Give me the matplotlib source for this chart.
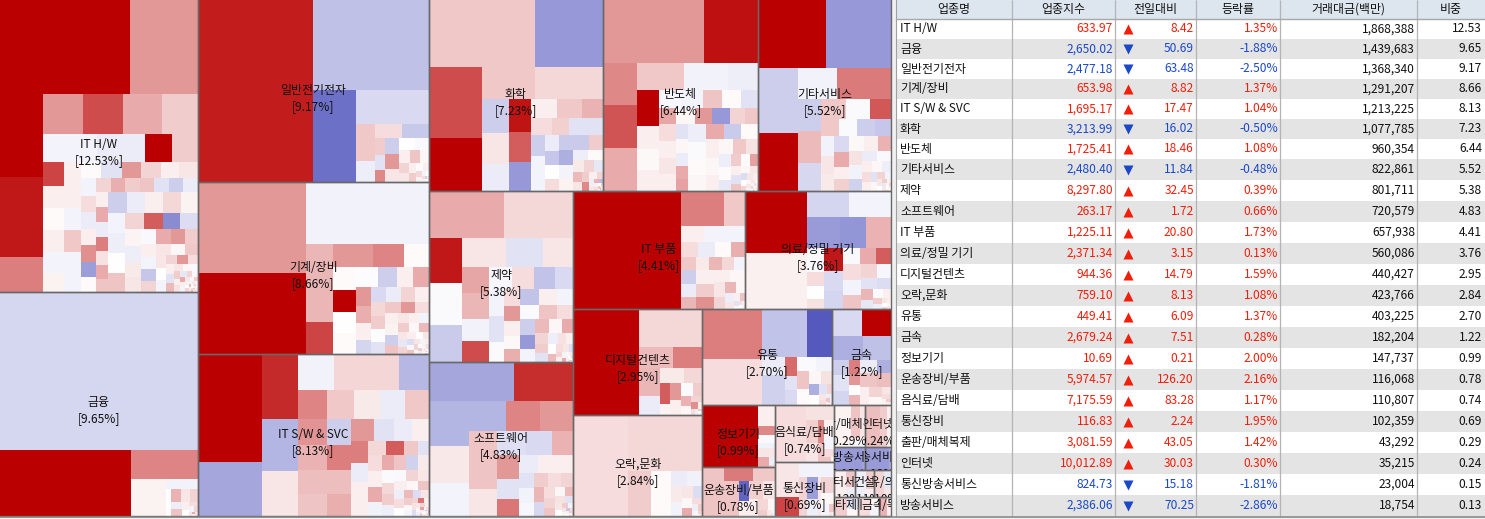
import matplotlib
matplotlib.use("Agg")
import matplotlib.pyplot as plt
from matplotlib.colors import LinearSegmentedColormap, Normalize
from matplotlib.patches import Rectangle

plt.rcParams['font.family'] = ['Noto Sans CJK KR', 'DejaVu Sans']

# ---------- table data ----------
table_names = ["IT H/W","금융","일반전기전자","기계/장비","IT S/W & SVC","화학","반도체","기타서비스","제약","소프트웨어","IT 부품","의료/정밀 기기",
               "디지털컨텐츠","오락,문화","유통","금속","정보기기","운송장비/부품","음식료/담배","통신장비","출판/매체복제","인터넷","통신방송서비스","방송서비스"]
table_index = [633.97,2650.02,2477.18,653.98,1695.17,3213.99,1725.41,2480.40,8297.80,263.17,1225.11,2371.34,
               944.36,759.10,449.41,2679.24,10.69,5974.57,7175.59,116.83,3081.59,10012.89,824.73,2386.06]
table_diff = [8.42,50.69,63.48,8.82,17.47,16.02,18.46,11.84,32.45,1.72,20.80,3.15,
              14.79,8.13,6.09,7.51,0.21,126.20,83.28,2.24,43.05,30.03,15.18,70.25]
table_rate = [1.35,-1.88,-2.50,1.37,1.04,-0.50,1.08,-0.48,0.39,0.66,1.73,0.13,
              1.59,1.08,1.37,0.28,2.00,2.16,1.17,1.95,1.42,0.30,-1.81,-2.86]
table_amount = [1868388,1439683,1368340,1291207,1213225,1077785,960354,822861,801711,720579,657938,560086,
                440427,423766,403225,182204,147737,116068,110807,102359,43292,35215,23004,18754]
table_weight = [12.53,9.65,9.17,8.66,8.13,7.23,6.44,5.52,5.38,4.83,4.41,3.76,
                2.95,2.84,2.70,1.22,0.99,0.78,0.74,0.69,0.29,0.24,0.15,0.13]
table_header = ["업종명","업종지수","전일대비","등락률","거래대금(백만)","비중"]
# sectors of the map that lie beyond the visible table rows
extra_names = ["컴퓨터서비스","건설","섬유/의류","기타제조","비금속","종이/목재"]
extra_weight = [0.12,0.11,0.10,0.10,0.09,0.05]

# ---------- treemap leaves: weight, change %, strip sizes (+col / -row) ----------
tail_w = [20,19.5,19,18.5,18,17.5,17,16.5,16,15.5,15,14.5,14,13.5,13,12.5,12,11.5,11,10.5,10,9.5,9,8.5,8,7.6,7.2,6.8,6.4,6,
          5.6,5.2,4.8,4.4,4,3.7,3.4,3.1,2.8,2.5,2.3,2.1,1.9,1.7,1.5,1.4,1.3,1.2,1.1,1,.9,.8,.7,.6,.55,.5,.45,.4,.35,.3,
          .28,.26,.24,.22,.2,.18,.16,.15,.14,.13,.12,.11,.1,.09,.08,.07,.06,.05]

hw_w = [12255,6365,3526,3397,1462,1590,1585,1560,1400,1566,1363,783,725,506,484,484,462,462,396,391,374,374,357,357,306,
        320,320,304,304,288,288,272,256,256,256,256,240,224,196,196,196,196,196,196,196,180,175,170,165,160,155,150]
hw_c = [3,1.2,3,2.7,1.5,1.2,2.1,1.0,.6,-.2,-.35,3,.6,2.2,.2,.05,.2,-.2,.15,.2,.2,-.2,.65,-.2,-.2,
        .05,-.5,1.2,.5,.2,.3,-.2,.4,-.35,.2,1.3,-1.7,.05,.5,.95,.6,.7,-.5,-.85,-.35,.2,1.0,-.35,1.5,.35,1.0,.7]
hw_n = [-2,3,-4,-4,6,6,-6,7,-7,7]
hw_t = [-.85,-.35,.2,.45,.15,-.2,-.3,0,.7,.5,1.9,-2,-.6,.12,-.3,.25,.3,-.1,1.0,1.2,.6,.2,-.2,-1.0,.5,.3,.1,.65,.3,0,
        -.2,.5,1.2,.4,.2,-.5,.8,.3,.1,-.1,.6,.2,.35,-.4,.5,.1,1.0,.2,-.2,.3,.1,.6,.2,0,.5,-.2,.3,.1,.8,.2,
        .3,-.2,.5,.1,0,.4,.9,.2,-.3,.1,.6,.2,0,.3,.7,.1,.2,-.1]

fin_w = [31360,8645,1890,1295,338,132]
fin_c = [-.72,3,1.45,.16,-.22,0]
fin_n = [-1,1,-1,1,-1,1]
fin_t = [.9,.3,.5,-.3,.7,.2,0,.4,-.2,.5,.3,1.0,.1,.2,.4,-.3,.2,.1,.6,.2]

el_w = [21060,10374,4005,2484,714,399,384,384,154,143,110]
el_c = [2.65,-1.1,-2.5,-.65,.65,-.3,.42,-.95,.6,-.5,1.4]
el_n = [1,-1,1,-1,2,-2,3]
el_t = [-.85,1.2,.3,0,-.1,.2,.7,.1,.5,.3,.2,.6,.05,.2,.45,.15,-.2,0,.4,.2,-.8,.3,.1,.2,0,.3,.1,.4,.2,.1]

mc_w = [9828,8748,7626,2184,896,897,713,575,529,506,483,483,420,380,320,320,285,255,255,210]
mc_c = [1.2,3,-.22,.85,2.2,1.2,1.45,.05,.05,3,0,.05,-.06,-.85,.2,1.0,1.2,.95,.2,-.75]
mc_n = [2,-1,2,-3,4,-4,4]
mc_t = [-.65,-.35,.5,.2,.45,.6,-.05,-.5,.65,1.2,.4,.2,.15,-.85,.7,.3,.2,-.2,.6,.1,.8,.3,-.4,.5,.2,0,.3,-.6,.1,.7,
        .3,-.2,.2,.5,.1,0,.6,-.3,.2,.4,.1,.3,-.5,.2,.1,.4,0,.3,-.2,.1,.5,.2,-.3,.1,.7,0,.3,.2,-.1,.4]

sw_w = [6912,3456,2340,1872,1620,1296,1170,1170,1080,841,783,754,725,696,754,725,696,638,624,600,576,528,506,440,396,374,374,323,289,289,252,252,196,154]
sw_c = [3,-1.55,2.5,-1.3,.3,-.22,.47,.47,-1.25,1.45,.65,.25,-.35,.65,1.25,.9,.75,.7,-.85,1.5,.75,.95,1.2,-.5,-.35,.2,1.5,-.35,.2,.2,.45,1.9,.65,-.5]
sw_n = [2,3,-4,-5,4,4,-4,4,-4]
sw_t = [.4,.2,1.0,-.25,1.0,.7,-.8,.25,-.08,.45,.6,-.3,-.1,.5,.3,.2,.1,.7,-.3,.4,0,.8,-.6,.3,.6,.1,-.2,.5,1.6,.2,
        .35,-.6,.3,.1,-.3,.5,.2,1.1,.1,.4,-.2,.6,.2,0,.3,-.9,.4,.1,.2,1.0,.2,-.2,.3,.1,.5,.2,.8,0,.2,.1]

ch_w = [7169,4556,3780,2808,1696,1088,1088,891,837,702,736,690,644,475,475,399,340,289,289,289,280,252,224,225,210,195,180]
ch_c = [.65,-1.8,2.1,3,.65,.45,.45,-.85,.3,-.35,2.75,1.9,-1.8,.2,.65,.9,.42,.55,-.5,-.5,-.85,-.2,-.2,-.35,-1.0,0,.42]
ch_n = [-2,2,-3,3,3,-3,-4,3,4]
ch_t = [-.9,-.9,.6,-1.4,-.2,.15,-.3,.05,.25,.5,-.4,.8,.3,.6,1.4,.2,.5,-.3,.3,.9,-1.2,.2,.4,0,.5,.7,.1,.3,.2,.9,.1,.4,-.2,.3,.6,0]

se_w = [6300,3402,1470,1470,1470,1288,1204,840,770,484,462,440,396,378,342,324,306,288,288,288,288,288,306,289,289,238,221,182,160,155,150,145]
se_c = [1.2,2.8,1.4,2,1,.65,-.22,-.3,3,.2,.08,.2,-.15,-.2,.7,.05,-.5,1.05,.42,.2,.3,.2,.1,1.2,-1.8,.5,.65,-.5,.1,-.35,1.0,1.1]
se_n = [-2,3,-3,4,-5,5,-5,5]
se_t = [-.3,-.08,.05,.1,1.0,-.9,.05,.2,.1,.2,.1,.65,.35,-.3,.05,-.4,.6,.05,1.1,.2,-.5,.7,.1,.3,-.6,.3,.2,0,.5,.1,
        .3,-.2,.3,0,.1,.4,.2,.5,0,.1,.6,-.1,.2,.3,0,.4,.1,.2,.7,.1]

sv_w = [4624,4420,2624,2337,1178,837,837,725,700,621,525,483,441,306,306,289,272,266,238,224,238,210,190,170]
sv_c = [3,-1.8,-.85,3,-.22,1.55,1.55,-.85,.8,-.7,.65,-.08,1.95,.65,-.08,-.85,-1.0,-.22,.3,.25,-.65,1.0,.2,.55]
sv_n = [-2,2,-3,3,-3,-4,3,4]
sv_t = [.08,.2,.9,.35,-.22,-.8,-.35,-.1,.2,.1,-.3,.4,.2,-.5,.1,.5,-.2,.3,0,.6,.2,-.4,.3,.1,.5,0,.3,.2,-.2,.1,.4,0,.2,-.3,.1,.3]

ph_w = [3525,3243,1485,1386,1221,1276,1073,870,702,702,594,567,529,506,483,414,390,390,300,272,255,255,221,221,288,288,256]
ph_c = [1,.45,2.7,-.08,-.9,.3,-.5,.3,1.05,.85,-.22,2.1,-.15,.4,-1.05,-.65,-.2,-.5,-.08,.4,1.2,.2,.08,.95,-1.05,.2,-.2]
ph_n = [-2,3,-3,4,-4,3,5,-3]
ph_t = [-.08,.7,.42,-.85,-1.8,-.2,.8,.1,1.0,.5,.6,-.5,-.3,.35,.2,0,.8,.4,.3,-.6,.5,.2,-.2,1.0,.1,.3,-.3,.2,0,.5,
        .2,-.5,.1,.4,.7,0,.2,-.2,.3,.1]

so_w = [3315,2301,1800,1480,1320,1110,1020,990,812,812,756,696,624,504,528,440,374,342,324,324]
so_c = [-1.55,2.45,-1.3,.28,-.2,-1.3,1.45,1.2,.7,.7,.3,-.55,-.65,.9,1.2,-.5,1.6,-.35,.2,.2]
so_n = [-2,3,-3,3,-3,3,-3]
so_t = [-.5,-.22,-.15,.6,.4,.5,.85,-.7,.4,.5,.7,.1,.8,.35,-.5,.3,0,.6,-.2,.3,.1,-1.0,.4,.2,0,.6,.2,-.3,.5,.1,.8,0,.2,.3,-.2]

cp_w = [12744,1470,735,391,340,340,255,255,225,210,195,195,195,180,170,160,150,140]
cp_c = [3,1.5,.65,.2,-.2,-.2,.42,-.35,.05,.95,.65,-.85,-.35,.85,.25,.85,.45,-.2]
cp_n = [1,-2,-3,-4,4,-4]
cp_t = [.2,.6,1.3,.2,.1,.3,.5,.85,.1,-.3,.3,.2,.7,-.5,.1,.4,.2,0,.3,-.2,.5,.1,.2,.4,0]

md_w = [3844,3472,1118,1118,1020,810,750,408,238,238,170,437,399,342,265,250,240]
md_c = [3,.17,-.75,-.2,-1.75,-1.85,.9,-.1,.42,0,.35,2.7,-.65,-.75,-.1,1.0,1.9]
md_n = [2,-2,-3,4,3,-3]
md_t = [.42,-.2,.7,.5,-.15,-.5,-.6,.85,-.4,-.08,.2,.6,-.3,.3,.2,0,.5,.1,-.2,.3,.2,.1,.4,0,.3]

dc_w = [6930,2356,726,638,567,378,360,255,220,110]
dc_c = [3,.45,.8,1.5,.85,-.35,.25,.45,1.9,.12]
dc_n = [1,-1,-2,2,-2,2]
dc_t = [1.2,.2,-.08,.6,.9,.1,.5,1.3,.2,.4,-.3,.6,.1,0,-.2,.3,.1,.4]

en_w = [5555,4161,1056,880,240,225]
en_c = [.42,.45,.6,.05,-.35,-.25]
en_n = [1,-1,1,1,-2]
en_t = [.25,-.22,.3,-.6,.1,1.0,.4,-.3,.6,-.2,.1,.5,.2,.1,.3,0,.4,-.2]

di_w = [3000,2700,2156,1225,408,336,336,234,182,182]
di_c = [1.5,.42,-1.05,-2.9,-.35,-.8,-.8,1.75,-.5,-.65]
di_n = [2,-2,3,3]
di_t = [-.08,-.2,.7,.05,.1,.35,-1.4,0,-.5,.5,.3,.4,-.3,.7,.2,.1,.5,-.2,.3,0,.6,.2]

mt_w = [790,790,736,667,256,256,224,165,121,110,110,216,180]
mt_c = [-.65,3,-1.4,-1.1,-.85,-.5,-.75,1.5,1.2,0,.85,-.35,-1.4]
mt_n = [-2,-2,3,4,-2]
mt_t = [.7,.75,.2,.5,.1,.3,.4,.15,.6,.2,.3,-.2,.1,.2]

iq_w = [3477,364,160,140,80]
iq_c = [3,.2,1.4,-.1,-.25]
iq_n = [1,-1,-1,-1,-1]
iq_t = [.3,1.0,-.3,.5,.2,.6]

tr_w = [1078,420,315,528,198,150]
tr_c = [.7,1.55,.65,.7,-2.7,.2]
tr_n = [1,-2,1,2]
tr_t = [.55,.3,.2,.45,.1,.6,.3,-.2,.4,.2,.1,.5]

fd_w = [1767,432,280,224,156,130]
fd_c = [.42,.35,.55,.3,1.4,.7]
fd_n = [1,-1,2,2]
fd_t = [.2,-.2,.4,.7,0,.3,.1,-.3]

cm_w = [850,450,528,300,240,180,130]
cm_c = [.3,2.2,-.22,.5,-1.7,-.3,.3]
cm_n = [2,-1,1,2,1]
cm_t = [.5,.1,-.2,.7,.3,.2,0,.4]

pb_w = [700,300,180,90,50]
pb_c = [.15,.7,.3,.1,-.2]
pb_n = [1,-2,2]
nt_w = [650,300,150]
nt_c = [.75,.6,.2]
nt_n = [1,-2]
bc_w = [620,60]
bc_c = [-1.75,-1.6]
bc_n = [1,1]
br_w = [560,40]
br_c = [-1.75,-1.5]
br_n = [1,1]
cs_w = [320,150,80]
cs_c = [.2,.7,-.3]
cs_n = [1,-1,1]
gj_w = [300,160,60]
gj_c = [-.3,.6,.2]
gj_n = [1,-1,1]
cn_w = [280,120,60]
cn_c = [.5,-.4,.3]
cn_n = [1,-1,1]
tx_w = [260,130,70]
tx_c = [.6,-.5,.1]
tx_n = [1,-1,1]
mn_w = [240,100,70]
mn_c = [.4,.1,-.2]
mn_n = [1,-1,1]
pp_w = [150,80]
pp_c = [.9,.2]
pp_n = [1,1]

leaves = [(hw_w,hw_c,hw_n,hw_t),(fin_w,fin_c,fin_n,fin_t),(el_w,el_c,el_n,el_t),(mc_w,mc_c,mc_n,mc_t),(sw_w,sw_c,sw_n,sw_t),
          (ch_w,ch_c,ch_n,ch_t),(se_w,se_c,se_n,se_t),(sv_w,sv_c,sv_n,sv_t),(ph_w,ph_c,ph_n,ph_t),(so_w,so_c,so_n,so_t),
          (cp_w,cp_c,cp_n,cp_t),(md_w,md_c,md_n,md_t),(dc_w,dc_c,dc_n,dc_t),(en_w,en_c,en_n,en_t),(di_w,di_c,di_n,di_t),
          (mt_w,mt_c,mt_n,mt_t),(iq_w,iq_c,iq_n,iq_t),(tr_w,tr_c,tr_n,tr_t),(fd_w,fd_c,fd_n,fd_t),(cm_w,cm_c,cm_n,cm_t),
          (pb_w,pb_c,pb_n,[]),(nt_w,nt_c,nt_n,[]),(bc_w,bc_c,bc_n,[]),(br_w,br_c,br_n,[]),
          (cs_w,cs_c,cs_n,[]),(gj_w,gj_c,gj_n,[]),(cn_w,cn_c,cn_n,[]),(tx_w,tx_c,tx_n,[]),(mn_w,mn_c,mn_n,[]),(pp_w,pp_c,pp_n,[])]

# ---------- layout ----------
def worst(row, side):
    s = sum(row)
    return max(max(side*side*v/(s*s), s*s/(side*side*v)) for v in row)

def lay_strip(vals, x, y, w, h, as_col, out):
    s = sum(vals)
    if as_col:
        t = s/h if h else 0
        yy = y
        for v in vals:
            hh = v/t if t else 0
            out.append((x, yy, t, hh)); yy += hh
        return x+t, y, w-t, h
    t = s/w if w else 0
    xx = x
    for v in vals:
        ww = v/t if t else 0
        out.append((xx, y, ww, t)); xx += ww
    return x, y+t, w, h-t

def treemap(vals, x, y, w, h, strips=()):
    total = sum(vals)
    vals = [v*w*h/total for v in vals]
    out = []
    i = 0
    for n in strips:
        k = abs(n)
        x, y, w, h = lay_strip(vals[i:i+k], x, y, w, h, n > 0, out)
        i += k
    while i < len(vals):
        side = min(w, h)
        row = [vals[i]]
        j = i+1
        while j < len(vals) and worst(row+[vals[j]], side) <= worst(row, side):
            row.append(vals[j]); j += 1
        x, y, w, h = lay_strip(row, x, y, w, h, w >= h, out)
        i = j
    return out

def spread_tail(n):
    """Pick n weights across the whole tail_w list, so that every tail ends in tiny cells."""
    if n == 0:
        return []
    if n == 1:
        return [tail_w[0]]
    last = len(tail_w)-1
    return [tail_w[round(i*last/(n-1))] for i in range(n)]

MAP_W, MAP_H = 891, 516
sector_names = table_names + extra_names
sector_weight = table_weight + extra_weight
sector_strips = [2,3,-3,2,-2,2,-2,2,2,-2,-2,-3,-3]
sector_rects = treemap(sector_weight, 0, 0, MAP_W, MAP_H, sector_strips)

# ---------- drawing ----------
fig = plt.figure(figsize=(14.85, 5.19), dpi=100, facecolor="#F0F0F0")
ax = fig.add_axes([0, 0, 1, 1])
ax.set_xlim(0, 1485); ax.set_ylim(519, 0); ax.axis("off")

cmap = LinearSegmentedColormap.from_list("rb", ["#5054BC", "#FFFFFF", "#BA0000"])
norm = Normalize(-3, 3)

for rect, (w_, c_, n_, t_) in zip(sector_rects, leaves):
    x, y, w, h = rect
    tw = spread_tail(len(t_))
    weights = list(w_)
    if tw:
        rem = max(w*h - sum(w_), 1)
        weights += [v*rem/sum(tw) for v in tw]
    changes = list(c_) + list(t_)
    for (cx, cy, cw, ch), val in zip(treemap(weights, x, y, w, h, n_), changes):
        ax.add_patch(Rectangle((cx, cy), cw, ch, facecolor=cmap(norm(val)), edgecolor="none", antialiased=False))

BORDER = "#686868"
for x, y, w, h in sector_rects:
    # the outer left and top edges carry no line: they are pushed off the canvas
    x0 = x-3 if x < 1 else x
    y0 = y-3 if y < 1 else y
    ax.add_patch(Rectangle((x0, y0), x+w-x0, y+h-y0, facecolor="none", edgecolor=BORDER, linewidth=1.0))

for (x, y, w, h), name, pct in zip(sector_rects, sector_names, sector_weight):
    clip = Rectangle((x, y), w, h, transform=ax.transData)
    for txt, dy in ((name, -1), (f"[{pct:.2f}%]", 15)):
        t = ax.text(x+w/2, y+h/2+dy, txt, ha="center", va="center", fontsize=8.6, color="#111111")
        t.set_clip_path(clip)
        t.set_clip_on(True)

# table
T_LEFT, T_RIGHT = 896, 1485
col_edges = [T_LEFT, 1012, 1115, 1196, 1280, 1417, T_RIGHT]
row_edges = [19,39,59,79,99,119,139,159,180,201,222,243,264,285,306,327,348,369,390,411,432,453,474,495,516]
ax.add_patch(Rectangle((T_LEFT, 0), T_RIGHT-T_LEFT, 19, facecolor="#DDE5EE", edgecolor="none"))
RED, BLUE = "#F01E0A", "#1A48C8"
for i in range(len(table_names)):
    y0, y1 = row_edges[i], row_edges[i+1]
    ax.add_patch(Rectangle((T_LEFT, y0), T_RIGHT-T_LEFT, y1-y0, facecolor="#FFFFFF" if i % 2 == 0 else "#E4E4E4", edgecolor="none"))
    ym = (y0+y1)/2
    up = table_rate[i] >= 0
    col = RED if up else BLUE
    ax.text(900, ym, table_names[i], ha="left", va="center", fontsize=8.6, color="#111111")
    ax.text(1113, ym, f"{table_index[i]:,.2f}", ha="right", va="center", fontsize=8.6, color=col)
    ax.scatter([1128], [ym], marker="^" if up else "v", s=52, color=col, linewidths=0, zorder=3)
    ax.text(1194, ym, f"{table_diff[i]:.2f}", ha="right", va="center", fontsize=8.6, color=col)
    ax.text(1278, ym, f"{table_rate[i]:.2f}%", ha="right", va="center", fontsize=8.6, color=col)
    ax.text(1415, ym, f"{table_amount[i]:,}", ha="right", va="center", fontsize=8.6, color="#111111")
    ax.text(1482, ym, f"{table_weight[i]:.2f}", ha="right", va="center", fontsize=8.6, color="#111111")
for i, head in enumerate(table_header):
    ax.text((col_edges[i]+col_edges[i+1])/2, 9, head, ha="center", va="center", fontsize=8.6, color="#111111")
for xe in col_edges[1:-1]:
    ax.plot([xe, xe], [0, 516], color="#B4B4B4", lw=0.9, solid_capstyle="butt", zorder=2)
ax.plot([T_LEFT-0.5, T_LEFT-0.5], [0, 516], color="#A0A0A0", lw=0.8, zorder=2)
ax.plot([T_LEFT, T_RIGHT], [18.5, 18.5], color="#A8A8A8", lw=1.0, zorder=2)
ax.plot([0, T_RIGHT], [516.5, 516.5], color="#808080", lw=1.1, zorder=2)

fig.savefig("out.png", dpi=100, facecolor=fig.get_facecolor())
